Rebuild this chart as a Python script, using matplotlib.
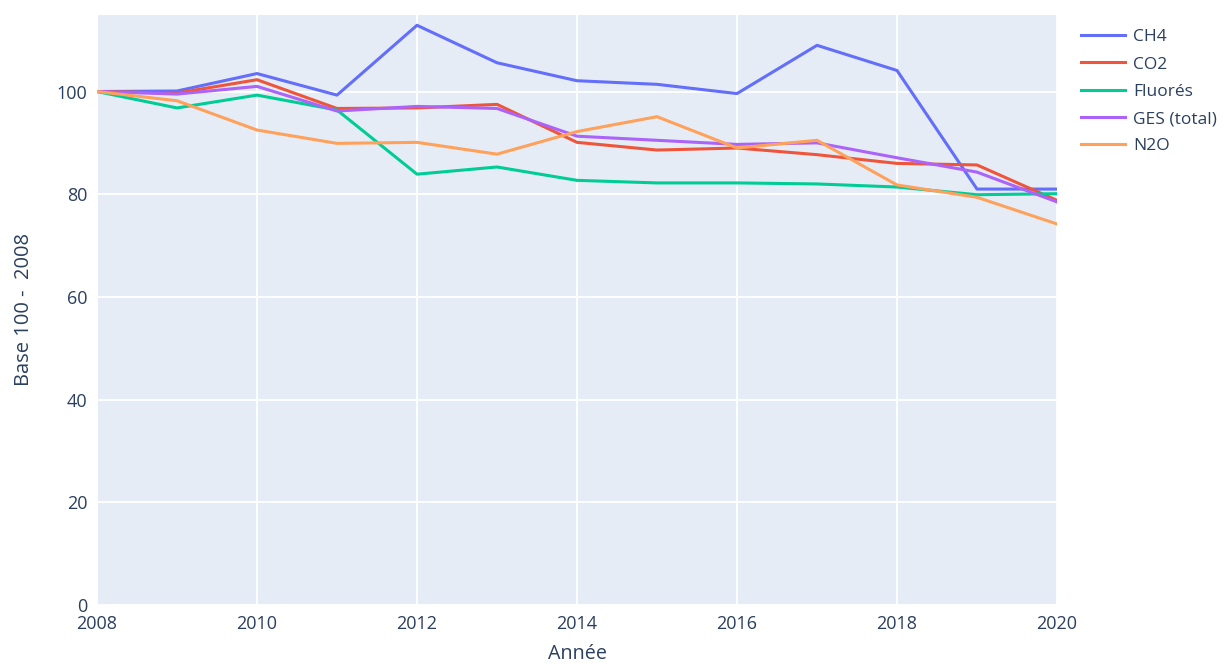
import matplotlib.pyplot as plt

years = list(range(2008, 2021))
ch4 = [100, 100.1, 103.5, 99.3, 112.9, 105.6, 102.1, 101.4, 99.6, 109.0, 104.1, 81.0, 81.0]
co2 = [100, 99.7, 102.3, 96.7, 96.8, 97.5, 90.1, 88.6, 89.0, 87.7, 86.0, 85.7, 78.8]
fluores = [100, 96.8, 99.3, 96.4, 83.9, 85.3, 82.7, 82.2, 82.2, 82.0, 81.4, 79.9, 80.1]
ges = [100, 99.5, 101.0, 96.2, 97.1, 96.7, 91.3, 90.5, 89.7, 90.0, 87.1, 84.3, 78.5]
n2o = [100, 98.2, 92.5, 89.9, 90.1, 87.8, 92.2, 95.1, 89.0, 90.5, 81.8, 79.4, 74.2]

series = [("CH4", ch4, "#636EFA"), ("CO2", co2, "#EF553B"),
          ("Fluorés", fluores, "#00CC96"), ("GES (total)", ges, "#AB63FA"),
          ("N2O", n2o, "#FFA15A")]

txt = "#2a3f5f"
plt.rcParams['font.family'] = ['Open Sans', 'DejaVu Sans']

fig = plt.figure(figsize=(12.28, 6.64), dpi=100)
ax = fig.add_axes([97/1228, 59/664, 960/1228, 590.5/664])
ax.set_facecolor("#E5ECF6")

for name, vals, col in series:
    ax.plot(years, vals, color=col, lw=2.2, label=name)

ax.set_xlim(2008, 2020)
ax.set_ylim(0, 115)
ax.set_xticks(range(2008, 2021, 2))
ax.set_yticks(range(0, 101, 20))
ax.grid(True, color="white", lw=1.3)
ax.set_axisbelow(True)
for s in ax.spines.values():
    s.set_visible(False)
ax.tick_params(length=0, labelsize=13, colors=txt, pad=7)
ax.set_xlabel("Année", fontsize=14.2, color=txt, labelpad=8)
ax.set_ylabel("Base 100 -  2008", fontsize=14.5, color=txt, labelpad=16)

leg = ax.legend(loc="upper left", bbox_to_anchor=(1.018, 0.987), frameon=False,
                fontsize=12.5, handlelength=2.5, labelspacing=0.64, handletextpad=0.5,
                labelcolor=txt, borderaxespad=0)

fig.savefig("out.png", dpi=100)
